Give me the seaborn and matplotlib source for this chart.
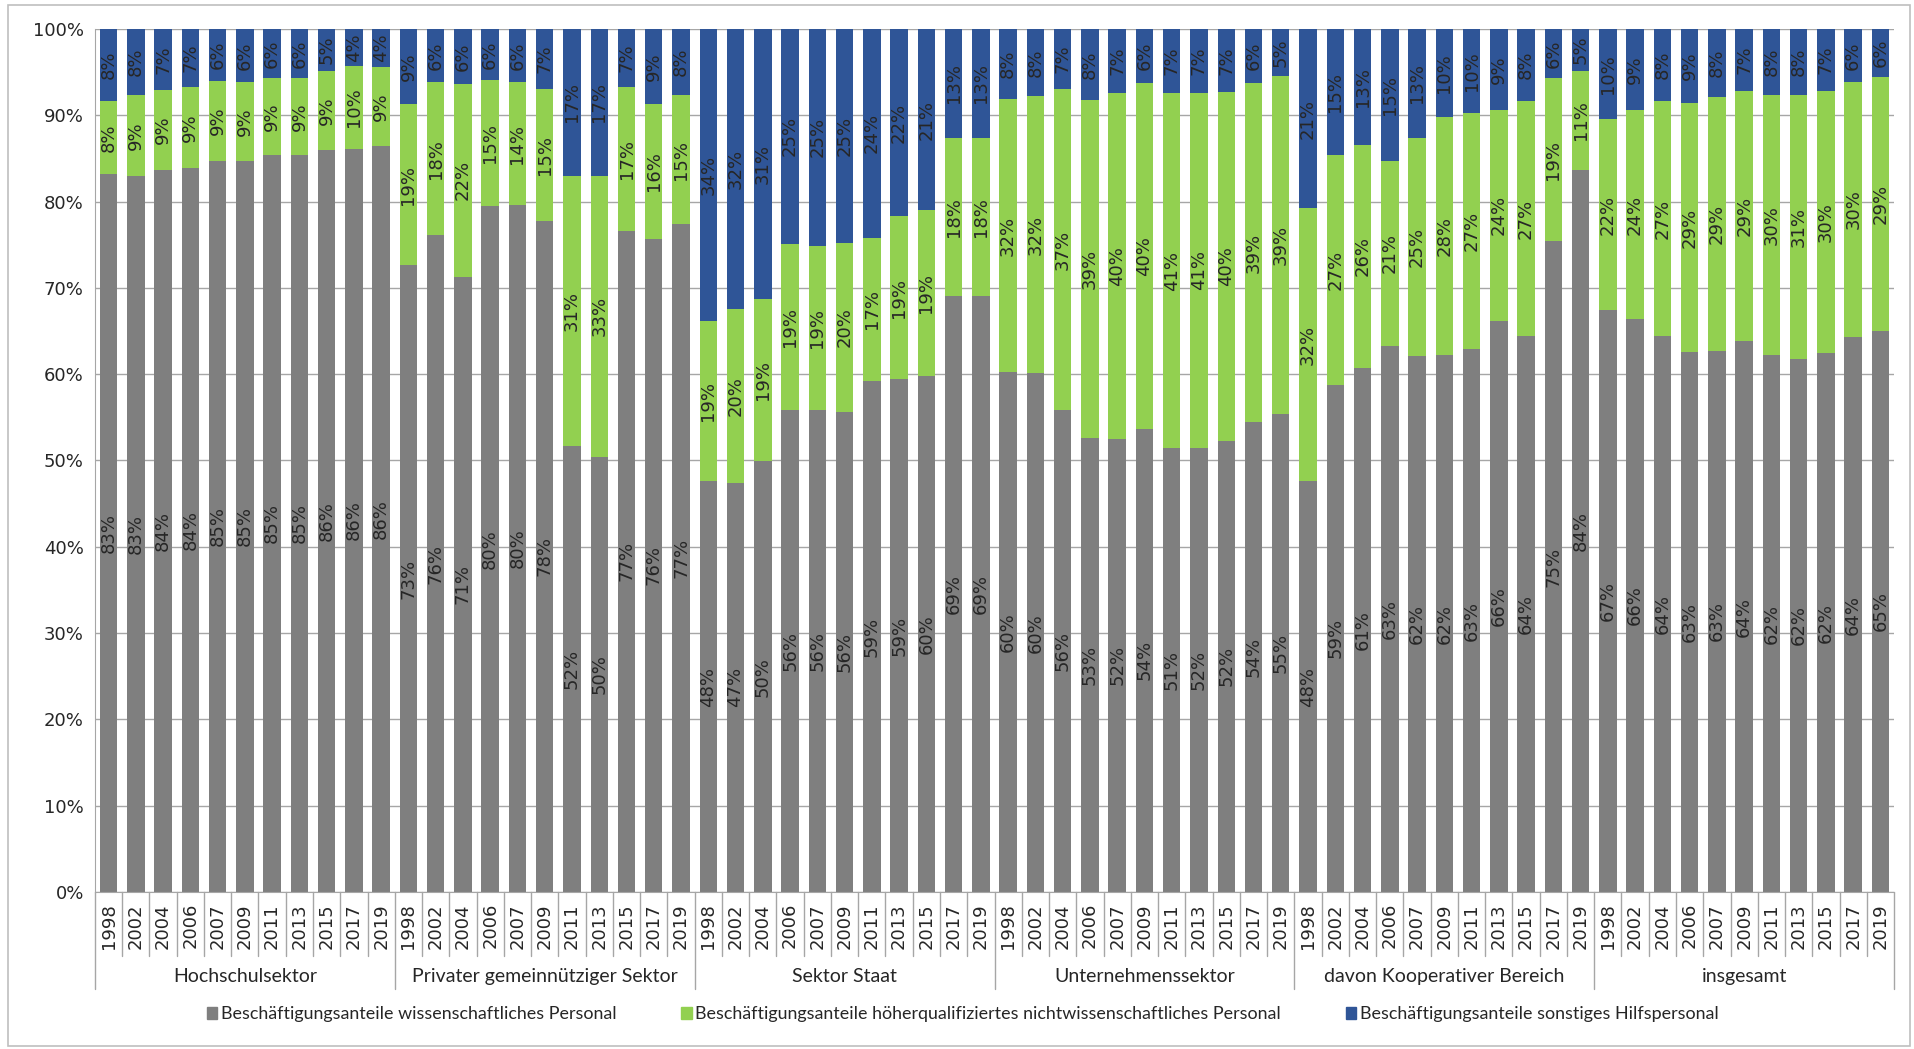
import pandas as pd
import numpy as np
import matplotlib.pyplot as plt
import seaborn as sns
import matplotlib.ticker as mtick
from matplotlib.patches import Patch, Rectangle

# Data (shares in %)
sectors = ["Hochschulsektor", "Privater gemeinnütziger Sektor", "Sektor Staat",
           "Unternehmenssektor", "davon Kooperativer Bereich", "insgesamt"]
years = ["1998", "2002", "2004", "2006", "2007", "2009", "2011", "2013", "2015", "2017", "2019"]

series_names = ["Beschäftigungsanteile wissenschaftliches Personal",
                "Beschäftigungsanteile höherqualifiziertes nichtwissenschaftliches Personal",
                "Beschäftigungsanteile sonstiges Hilfspersonal"]

wiss = [83.2, 83.0, 83.7, 83.9, 84.7, 84.7, 85.4, 85.4, 86.0, 86.1, 86.4,
        72.6, 76.1, 71.3, 79.5, 79.6, 77.8, 51.7, 50.4, 76.6, 75.7, 77.4,
        47.6, 47.4, 49.9, 55.8, 55.8, 55.6, 59.2, 59.4, 59.8, 69.0, 69.0,
        60.2, 60.1, 55.8, 52.6, 52.5, 53.7, 51.4, 51.5, 52.3, 54.4, 55.4,
        47.6, 58.8, 60.7, 63.3, 62.1, 62.2, 62.9, 66.2, 64.4, 75.4, 83.7,
        67.4, 66.4, 64.4, 62.6, 62.7, 63.8, 62.2, 61.8, 62.4, 64.3, 65.0]
hoeher = [8.4, 9.3, 9.2, 9.4, 9.3, 9.2, 8.9, 8.9, 9.1, 9.6, 9.2,
          18.7, 17.7, 22.3, 14.6, 14.2, 15.2, 31.3, 32.6, 16.7, 15.6, 14.9,
          18.6, 20.2, 18.8, 19.3, 19.1, 19.6, 16.6, 18.9, 19.2, 18.4, 18.4,
          31.7, 32.1, 37.3, 39.2, 40.1, 40.0, 41.2, 41.1, 40.4, 39.3, 39.2,
          31.6, 26.6, 25.9, 21.4, 25.3, 27.6, 27.4, 24.4, 27.2, 18.9, 11.4,
          22.2, 24.2, 27.2, 28.8, 29.4, 29.0, 30.1, 30.6, 30.4, 29.6, 29.4]
hilfs = [8.4, 7.7, 7.1, 6.7, 6.0, 6.1, 5.7, 5.7, 4.9, 4.3, 4.4,
         8.7, 6.2, 6.4, 5.9, 6.2, 7.0, 17.0, 17.0, 6.7, 8.7, 7.7,
         33.8, 32.4, 31.3, 24.9, 25.1, 24.8, 24.2, 21.7, 21.0, 12.6, 12.6,
         8.1, 7.8, 6.9, 8.2, 7.4, 6.3, 7.4, 7.4, 7.3, 6.3, 5.4,
         20.8, 14.6, 13.4, 15.3, 12.6, 10.2, 9.7, 9.4, 8.4, 5.7, 4.9,
         10.4, 9.4, 8.4, 8.6, 7.9, 7.2, 7.7, 7.6, 7.2, 6.1, 5.6]

colors = ["#7F7F7F", "#92D050", "#2F5597"]

df = pd.DataFrame({"pos": range(len(wiss)), "wiss": wiss, "hoeher": hoeher, "hilfs": hilfs})
df["bottom2"] = df["wiss"] + df["hoeher"]

sns.set_style("white")
plt.rcParams["font.family"] = ["DejaVu Sans"]
label_font = ["Lato", "DejaVu Sans"]

fig = plt.figure(figsize=(19.14, 10.49), dpi=100)
ax = fig.add_axes([0.0496, 0.1497, 0.94, 0.8227])

bottoms = [None, df["wiss"].values, df["bottom2"].values]
for col, c, btm in zip(["wiss", "hoeher", "hilfs"], colors, bottoms):
    kws = {} if btm is None else {"bottom": btm}
    sns.barplot(data=df, x="pos", y=col, color=c, width=0.64, errorbar=None,
                saturation=1, ax=ax, linewidth=0, **kws)
    vals = df[col].values
    ax.bar_label(ax.containers[-1], labels=[f"{round(v)}%" for v in vals],
                 label_type="center", rotation=90, fontsize=13)

# axes styling
ax.set_ylim(0, 100)
ax.set_xlim(-0.5, len(wiss) - 0.5)
ax.set_yticks(range(0, 101, 10))
ax.yaxis.set_major_formatter(mtick.FuncFormatter(lambda v, _: f"{int(v)}%"))
ax.yaxis.grid(True, color="#A6A6A6", linewidth=1)
ax.set_axisbelow(True)
ax.set_xlabel("")
ax.set_ylabel("")
for s in ["top", "right"]:
    ax.spines[s].set_visible(False)
for s in ["left", "bottom"]:
    ax.spines[s].set_color("#A6A6A6")
ax.tick_params(axis="y", length=5, color="#A6A6A6", labelsize=13, pad=3)

ax.set_xticks(range(len(wiss)))
ax.set_xticklabels(years * len(sectors), rotation=90, fontsize=13)
ax.tick_params(axis="x", length=0, pad=8)

# two-level category axis: separators and group names
trans = ax.get_xaxis_transform()
for i in range(len(wiss) + 1):
    low = -0.112 if i % len(years) == 0 else -0.074
    ax.plot([i - 0.5, i - 0.5], [0, low], transform=trans, color="#A6A6A6",
            linewidth=1, clip_on=False)
for g, name in enumerate(sectors):
    ax.text(g * len(years) + (len(years) - 1) / 2, -0.098, name, transform=trans,
            ha="center", va="center", fontsize=14, family=label_font)

# legend
handles = [Patch(facecolor=c, edgecolor=c) for c in colors]
fig.legend(handles, series_names, loc="center", bbox_to_anchor=(0.503, 0.033), ncol=3,
           frameon=False, handlelength=0.6, handleheight=0.7, handletextpad=0.2,
           columnspacing=3.6, prop={"family": label_font, "size": 12.9})

# chart border
fig.patches.append(Rectangle((0.004, 0.003), 0.994, 0.992, transform=fig.transFigure,
                             fill=False, edgecolor="#BFBFBF", linewidth=1.2))

fig.savefig("out.png", dpi=100)
plt.close()
